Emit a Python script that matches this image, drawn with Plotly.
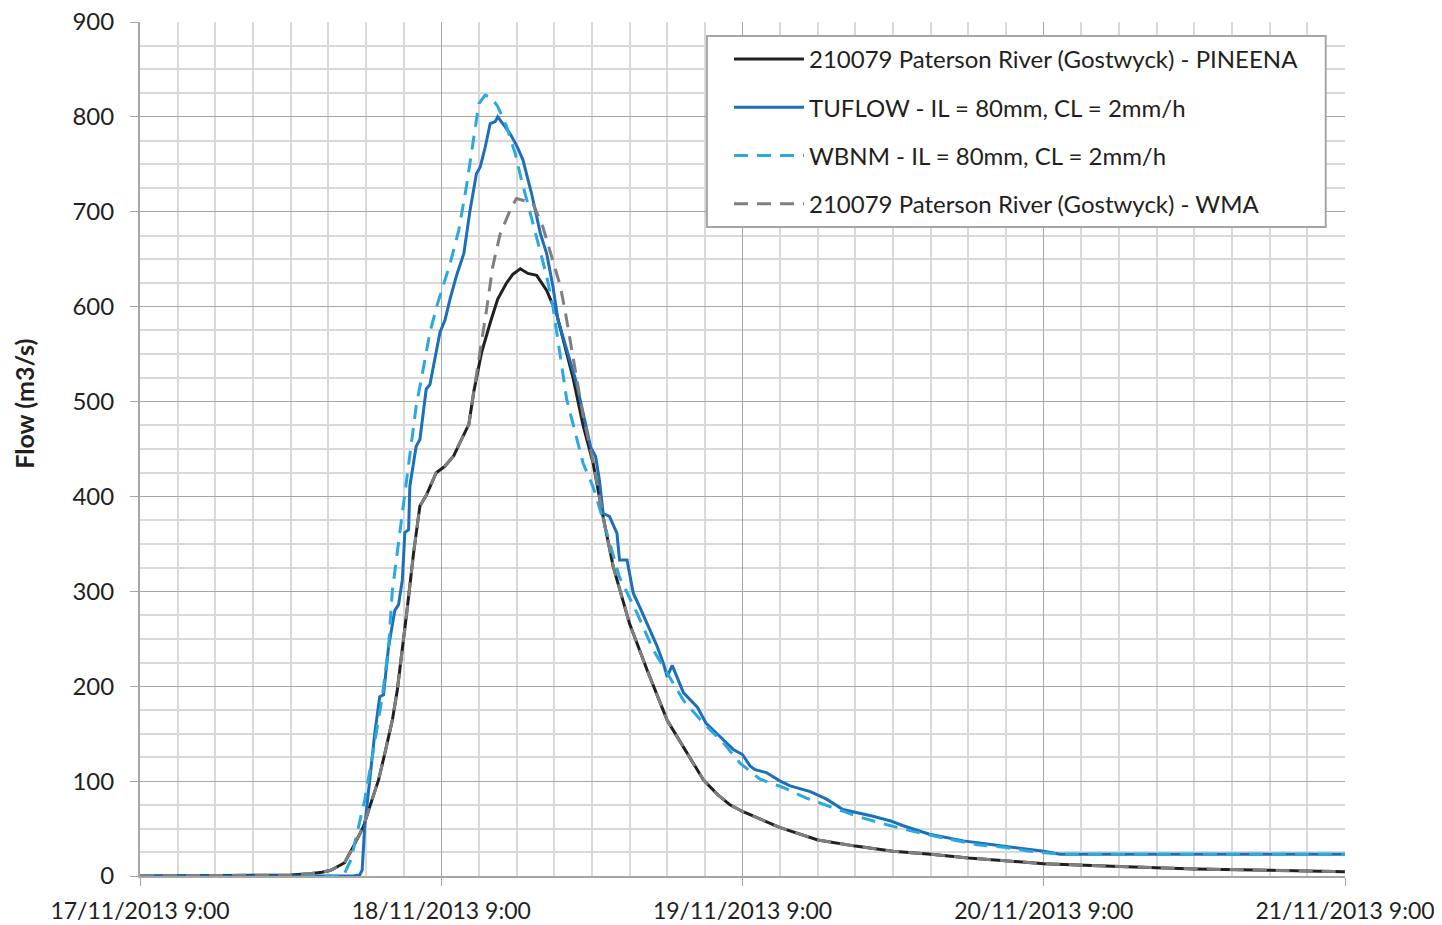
import pandas as pd
import plotly.graph_objects as go

# hours after 17/11/2013 9:00 and flow (m3/s)
pineena_hours = [0, 10, 12, 13.5, 14.5, 15.2, 16.3, 17.0, 17.8, 18.3, 19.0, 19.5, 20.1, 20.5, 20.9,
                 21.3, 21.8, 22.3, 22.8, 23.6, 24.3, 25.0, 25.5, 26.2, 26.6, 27.2, 27.9, 28.5, 29.2,
                 29.7, 30.3, 30.9, 31.6, 32.4, 33.2, 34.5, 35.3, 36.1, 36.9, 37.7, 39.0, 40.4, 42.0,
                 43.6, 44.9, 46.0, 47.0, 48.0, 49.7, 51.0, 54, 57, 60, 63, 66, 69, 72, 78, 84, 90, 96]
pineena_flow = [0, 0.5, 1, 2.5, 4, 6, 14, 31, 52, 73, 101, 129, 164, 196, 238,
                283, 341, 390, 401, 425, 432, 443, 457, 476, 511, 551, 583, 608, 625,
                634, 640, 635, 633, 617, 592, 525, 475, 435, 378, 326, 266, 217, 164,
                129, 101, 86, 75, 68, 58, 51, 38, 31.5, 26, 23, 19, 16, 13, 10, 7.5, 6, 4.5]

tuflow_hours = [0, 17.0, 17.5, 17.7, 17.9, 18.3, 18.7, 19.1, 19.4, 19.8, 20.3, 20.6, 20.9, 21.1,
                21.4, 21.5, 22.0, 22.3, 22.8, 23.1, 23.5, 23.9, 24.3, 24.7, 25.2, 25.8, 26.3, 26.8,
                27.1, 27.5, 27.9, 28.3, 28.5, 28.9, 29.5, 30.0, 30.5, 31.2, 31.9, 32.4, 32.9, 33.3,
                34.0, 34.7, 35.3, 35.9, 36.3, 36.6, 36.9, 37.4, 38.0, 38.2, 38.8, 39.3, 39.8, 40.6,
                41.2, 41.7, 42.0, 42.4, 43.3, 44.4, 45.1, 46.2, 47.3, 48.0, 48.6, 49.0, 49.9, 51.0,
                51.8, 53.4, 54.7, 56.0, 58.4, 59.8, 60.8, 62.9, 65.6, 69.0, 72.0, 73.3, 96.0]
tuflow_flow = [0, 0, 1, 6, 52, 101, 150, 189, 191, 241, 280, 286, 312, 362,
               365, 411, 453, 460, 513, 518, 545, 573, 586, 608, 632, 656, 702, 740,
               747, 768, 793, 795, 800, 793, 782, 770, 755, 719, 677, 656, 621, 586,
               555, 523, 488, 452, 442, 417, 382, 379, 361, 333, 333, 298, 284, 259,
               242, 224, 210, 222, 193, 178, 161, 147, 133, 128, 116, 112, 109, 100,
               95, 89, 81, 70, 63, 58, 53, 44, 37, 31, 26, 23, 23]

wbnm_hours = [0, 16.2, 16.8, 17.3, 17.9, 18.6, 19.3, 19.8, 20.1, 20.7, 21.4, 22.0, 22.6, 23.1,
              23.7, 24.7, 25.4, 26.0, 26.6, 27.0, 27.5, 28.0, 28.5, 29.2, 29.9, 30.4, 31.1, 31.7,
              32.4, 32.9, 34.0, 35.3, 36.1, 36.9, 38.2, 39.6, 40.9, 42.0, 43.3, 44.9, 46.5, 47.8,
              49.4, 51.3, 53.1, 55.0, 57.1, 59.5, 61.6, 64.0, 66.7, 69.0, 70.9, 73.3, 96.0]
wbnm_flow = [0, 0, 17, 45, 80, 133, 189, 241, 300, 362, 432, 495, 537, 573,
             603, 645, 681, 726, 779, 814, 823, 820, 811, 790, 761, 733, 698, 667,
             632, 600, 502, 435, 410, 375, 315, 277, 238, 214, 185, 161, 140, 119,
             102, 93, 82, 73, 63, 54, 47, 40, 33, 30, 26, 23, 23]

wma_hours = [0, 10, 12, 13.5, 14.5, 15.2, 16.3, 17.0, 17.8, 18.3, 19.0, 19.5, 20.1, 20.5, 20.9,
             21.3, 21.8, 22.3, 22.8, 23.6, 24.3, 25.0, 25.5, 26.2, 26.6, 27.2, 27.6, 28.1, 28.7,
             29.6, 30.0, 30.8, 31.3, 32.1, 32.8, 33.5, 33.9, 34.5, 35.3, 36.1, 36.9, 37.7, 39.0,
             40.4, 42.0, 43.6, 44.9, 46.0, 47.0, 48.0, 49.7, 51.0, 54, 57, 60, 63, 66, 69, 72,
             78, 84, 90, 96]
wma_flow = [0, 0.5, 1, 2.5, 4, 6, 14, 31, 52, 73, 101, 129, 164, 196, 238,
            283, 341, 390, 401, 425, 432, 443, 457, 476, 511, 560, 596, 642, 677,
            705, 714, 711, 709, 684, 653, 621, 593, 548, 485, 437, 378, 326, 266,
            217, 164, 129, 101, 86, 75, 68, 58, 51, 38, 31.5, 26, 23, 19, 16, 13,
            10, 7.5, 6, 4.5]

START = pd.Timestamp("2013-11-17 09:00")
FONT = "Lato, 'Noto Sans', sans-serif"


def to_time(hours):
    return [START + pd.Timedelta(hours=h) for h in hours]


series = [
    ("210079 Paterson River (Gostwyck) - PINEENA", pineena_hours, pineena_flow, "#231f20", "solid"),
    ("TUFLOW - IL = 80mm, CL = 2mm/h", tuflow_hours, tuflow_flow, "#1c6fb8", "solid"),
    ("WBNM - IL = 80mm, CL = 2mm/h", wbnm_hours, wbnm_flow, "#29a9e0", "14px,9px"),
    ("210079 Paterson River (Gostwyck) - WMA", wma_hours, wma_flow, "#7f7f7f", "14px,9px"),
]

fig = go.Figure()
for i, (name, hrs, flow, color, dash) in enumerate(series):
    fig.add_trace(go.Scatter(
        x=to_time(hrs), y=flow,
        mode="lines",
        name=name,
        legendgroup=f"g{i}",
        line=dict(color=color, width=3, dash=dash),
    ))

# legend frame (wider padding than plotly's own border)
fig.add_shape(
    type="rect", xref="paper", yref="paper",
    x0=0.4705, x1=0.984, y0=0.76, y1=0.9836,
    fillcolor="white", line=dict(color="#a6a6a6", width=2),
    layer="above",
)

# y-axis title, placed like the original (a little above the axis middle)
fig.add_annotation(
    text="<b>Flow (m3/s)</b>", textangle=-90,
    xref="paper", yref="paper", x=-0.0963, y=0.553,
    xanchor="center", yanchor="middle", showarrow=False,
    font=dict(size=25),
)

fig.update_layout(
    width=1434, height=917,
    margin=dict(l=132, r=97, t=14, b=49),
    paper_bgcolor="white",
    plot_bgcolor="white",
    font=dict(family=FONT, size=24, color="#231f20"),
    showlegend=True,
    legend=dict(
        x=0.4888, y=0.9825, xanchor="left", yanchor="top",
        bgcolor="rgba(0,0,0,0)", borderwidth=0,
        font=dict(size=24), tracegroupgap=14,
        itemwidth=70,
    ),
    xaxis=dict(
        range=[START, START + pd.Timedelta(hours=96)],
        tick0=START, dtick=86400000,
        tickformat="%-d/%m/%Y %-H:%M",
        tickfont=dict(size=23),
        automargin=False, ticklabeloverflow="allow",
        showgrid=True, gridcolor="#a6a6a6", gridwidth=1,
        minor=dict(dtick=3 * 3600000, showgrid=True, gridcolor="#d9d9d9", gridwidth=1.5),
        showline=True, linecolor="#a6a6a6", linewidth=2,
        ticks="outside", ticklen=8, tickcolor="#a6a6a6",
        ticklabelstandoff=5,
        zeroline=False,
    ),
    yaxis=dict(
        range=[0, 900], dtick=100,
        automargin=False, ticklabeloverflow="allow",
        showgrid=True, gridcolor="#a6a6a6", gridwidth=1,
        minor=dict(dtick=25, showgrid=True, gridcolor="#d9d9d9", gridwidth=1.5),
        showline=True, linecolor="#a6a6a6", linewidth=2,
        ticks="outside", ticklen=8, tickcolor="#a6a6a6",
        ticklabelstandoff=11,
        zeroline=False,
    ),
)

fig.write_html("out.html")
